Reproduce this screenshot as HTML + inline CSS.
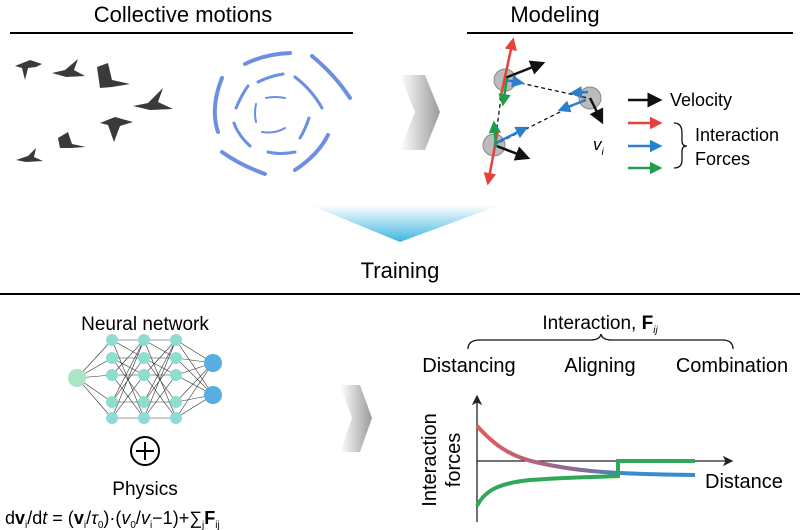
<!DOCTYPE html>
<html><head><meta charset="utf-8"><style>
html,body{margin:0;padding:0;background:#fff}
svg{display:block;font-family:"Liberation Sans",sans-serif}
</style></head><body>
<svg width="800" height="530" viewBox="0 0 800 530" xmlns="http://www.w3.org/2000/svg">
<defs>
<linearGradient id="gArr" x1="0" x2="1"><stop offset="0" stop-color="#fff"/><stop offset="1" stop-color="#888"/></linearGradient>
<linearGradient id="gTri" x1="0" y1="0" x2="0" y2="1"><stop offset="0" stop-color="#fff"/><stop offset="1" stop-color="#3fb6e0"/></linearGradient>
<linearGradient id="gRB" x1="0" x2="1"><stop offset="0" stop-color="#e85a5a"/><stop offset="0.45" stop-color="#8a6a95"/><stop offset="0.7" stop-color="#3a8ccc"/></linearGradient>
<marker id="mk" markerWidth="6" markerHeight="6" refX="5" refY="3" orient="auto"><path d="M0,0 L6,3 L0,6 Z" fill="#111"/></marker>
<marker id="mr" markerWidth="5" markerHeight="5" refX="4" refY="2.5" orient="auto"><path d="M0,0 L5,2.5 L0,5 Z" fill="#e8403c"/></marker>
<marker id="mb" markerWidth="5" markerHeight="5" refX="4" refY="2.5" orient="auto"><path d="M0,0 L5,2.5 L0,5 Z" fill="#2a7fcf"/></marker>
<marker id="mg" markerWidth="5" markerHeight="5" refX="4" refY="2.5" orient="auto"><path d="M0,0 L5,2.5 L0,5 Z" fill="#1f9e4a"/></marker>
<marker id="mx" markerWidth="8" markerHeight="8" refX="7" refY="4" orient="auto"><path d="M0,0 L8,4 L0,8 L2,4 Z" fill="#222"/></marker>
</defs>

<text x="183" y="22" font-size="22" text-anchor="middle">Collective motions</text>
<line x1="10" y1="33" x2="353" y2="33" stroke="#000" stroke-width="2"/>
<text x="555" y="22" font-size="22" text-anchor="middle">Modeling</text>
<line x1="467" y1="33" x2="793" y2="33" stroke="#000" stroke-width="2"/>

<!-- birds -->
<g fill="#3a3a3a">
<path d="M15,66 L30,60 L42,64 L36,67 L28,68 L25,80 L22,68 Z"/>
<path d="M52,73 L65,70 L78,59 L74,70 L85,76 L66,77 Z"/>
<path d="M97,67 L108,63 L112,80 L130,84 L112,87 L100,88 Z"/>
<path d="M133,106 L148,103 L163,88 L158,102 L173,109 L150,110 Z"/>
<path d="M100,123 L115,117 L133,122 L120,126 L114,142 L108,125 Z"/>
<path d="M58,138 L68,132 L72,144 L86,147 L70,148 L60,148 Z"/>
<path d="M16,160 L28,156 L36,148 L34,157 L43,161 L26,162 Z"/>
</g>
<!-- fish ring -->
<g stroke="#6b8fe2" stroke-linecap="round" fill="none">
<path d="M245,64 Q265,54 290,53" stroke-width="4"/>
<path d="M312,56 Q335,75 350,98" stroke-width="4"/>
<path d="M328,135 Q318,155 295,170" stroke-width="4"/>
<path d="M265,174 Q240,165 222,152" stroke-width="4"/>
<path d="M218,132 Q210,108 222,78" stroke-width="4"/>
<path d="M258,82 Q270,76 283,74" stroke-width="3"/>
<path d="M295,77 Q312,90 322,108" stroke-width="3"/>
<path d="M309,118 Q305,130 300,138" stroke-width="3"/>
<path d="M295,152 Q280,155 268,152" stroke-width="3"/>
<path d="M250,146 Q238,135 234,123" stroke-width="3"/>
<path d="M236,108 Q242,94 248,86" stroke-width="3"/>
<path d="M266,98 Q275,96 285,98" stroke-width="2"/>
<path d="M262,132 Q275,134 285,128" stroke-width="2"/>
<path d="M256,104 Q254,113 256,122" stroke-width="2"/>
</g>

<!-- chevron arrows -->
<path d="M400,75 L425,75 L440,112 L425,150 L400,150 L415,112 Z" fill="url(#gArr)" opacity="0.85"/>
<path d="M310,205 L500,205 L400,242 Z" fill="url(#gTri)"/>

<!-- modeling -->
<g fill="#bbb" stroke="#888" stroke-width="1"><circle cx="505" cy="80" r="11"/><circle cx="590" cy="98" r="11"/><circle cx="494" cy="145" r="11"/></g>
<g stroke="#111" stroke-width="1.3" stroke-dasharray="4,3"><line x1="507" y1="80" x2="588" y2="98"/><line x1="494" y1="145" x2="588" y2="98"/><line x1="502" y1="90" x2="496" y2="135"/></g>
<g stroke-width="2.5">
<line x1="505" y1="78" x2="543" y2="63" stroke="#111" marker-end="url(#mk)"/>
<line x1="590" y1="98" x2="602" y2="122" stroke="#111" marker-end="url(#mk)"/>
<line x1="494" y1="145" x2="528" y2="158" stroke="#111" marker-end="url(#mk)"/>
<line x1="500" y1="100" x2="513" y2="40" stroke="#e8403c" marker-end="url(#mr)"/>
<line x1="498" y1="130" x2="488" y2="183" stroke="#e8403c" marker-end="url(#mr)"/>
<line x1="505" y1="80" x2="522" y2="83" stroke="#2a7fcf" marker-end="url(#mb)"/>
<line x1="588" y1="92" x2="572" y2="93" stroke="#2a7fcf" marker-end="url(#mb)"/>
<line x1="586" y1="100" x2="560" y2="110" stroke="#2a7fcf" marker-end="url(#mb)"/>
<line x1="494" y1="144" x2="526" y2="128" stroke="#2a7fcf" marker-end="url(#mb)"/>
<line x1="507" y1="78" x2="503" y2="104" stroke="#1f9e4a" marker-end="url(#mg)"/>
<line x1="496" y1="147" x2="494" y2="123" stroke="#1f9e4a" marker-end="url(#mg)"/>
<line x1="628" y1="100" x2="660" y2="100" stroke="#111" marker-end="url(#mk)"/>
<line x1="628" y1="123" x2="660" y2="123" stroke="#e8403c" marker-end="url(#mr)"/>
<line x1="628" y1="146" x2="660" y2="146" stroke="#2a7fcf" marker-end="url(#mb)"/>
<line x1="628" y1="168" x2="660" y2="168" stroke="#1f9e4a" marker-end="url(#mg)"/>
</g>
<text x="670" y="106" font-size="18">Velocity</text>
<text x="695" y="141" font-size="18">Interaction</text>
<text x="695" y="165" font-size="18">Forces</text>
<path d="M674,123 Q682,123 682,133 L682,141 Q682,146 687,146 Q682,146 682,151 L682,160 Q682,168 674,168" fill="none" stroke="#111" stroke-width="1.3"/>
<text x="593" y="150" font-size="17" font-style="italic">v<tspan font-size="10" dy="5">i</tspan></text>

<!-- training -->
<text x="400" y="278" font-size="22" text-anchor="middle">Training</text>
<line x1="0" y1="294" x2="800" y2="294" stroke="#000" stroke-width="2"/>
<text x="145" y="330" font-size="19" text-anchor="middle">Neural network</text>
<g stroke="#333" stroke-width="0.6">
<line x1="77" y1="378" x2="112" y2="340"/><line x1="77" y1="378" x2="112" y2="358"/><line x1="77" y1="378" x2="112" y2="375"/><line x1="77" y1="378" x2="112" y2="402"/><line x1="77" y1="378" x2="112" y2="418"/>
<path d="M112,340 L144,418 M112,358 L144,402 M112,375 L144,340 M112,402 L144,358 M112,418 L144,375 M112,340 L144,358 M112,418 L144,340 M112,375 L144,418 M112,358 L144,375 M112,402 L144,340"/>
<path d="M144,340 L176,418 M144,358 L176,402 M144,375 L176,340 M144,402 L176,358 M144,418 L176,375 M144,340 L176,358 M144,418 L176,340 M144,375 L176,418 M144,358 L176,375 M144,402 L176,340"/>
<path d="M112,340 L144,340 M112,358 L144,358 M112,375 L144,375 M112,402 L144,402 M112,418 L144,418 M144,340 L176,340 M144,358 L176,358 M144,375 L176,375 M144,402 L176,402 M144,418 L176,418"/>
<path d="M176,340 L213,363 M176,358 L213,363 M176,375 L213,363 M176,402 L213,363 M176,418 L213,363 M176,340 L213,395 M176,358 L213,395 M176,375 L213,395 M176,402 L213,395 M176,418 L213,395"/>
</g>
<circle cx="77" cy="378" r="9" fill="#a8e6c4"/>
<g fill="#8fdcd0">
<circle cx="112" cy="340" r="6"/><circle cx="112" cy="358" r="6"/><circle cx="112" cy="375" r="6"/><circle cx="112" cy="402" r="6"/><circle cx="112" cy="418" r="6"/>
<circle cx="144" cy="340" r="6"/><circle cx="144" cy="358" r="6"/><circle cx="144" cy="375" r="6"/><circle cx="144" cy="402" r="6"/><circle cx="144" cy="418" r="6"/>
<circle cx="176" cy="340" r="6"/><circle cx="176" cy="358" r="6"/><circle cx="176" cy="375" r="6"/><circle cx="176" cy="402" r="6"/><circle cx="176" cy="418" r="6"/>
</g>
<circle cx="213" cy="363" r="9" fill="#58aee0"/><circle cx="213" cy="395" r="9" fill="#58aee0"/>
<circle cx="145" cy="451" r="14" fill="none" stroke="#000" stroke-width="2"/>
<line x1="136" y1="451" x2="154" y2="451" stroke="#000" stroke-width="2"/><line x1="145" y1="442" x2="145" y2="460" stroke="#000" stroke-width="2"/>
<text x="145" y="495" font-size="19" text-anchor="middle">Physics</text>
<text x="5" y="524" font-size="18">d<tspan font-weight="bold">v</tspan><tspan font-size="10" dy="4">i</tspan><tspan dy="-4">/d</tspan><tspan font-style="italic">t</tspan> = (<tspan font-weight="bold">v</tspan><tspan font-size="10" dy="4">i</tspan><tspan dy="-4">/</tspan><tspan font-style="italic">τ</tspan><tspan font-size="10" dy="4">0</tspan><tspan dy="-4">)·(</tspan><tspan font-style="italic">v</tspan><tspan font-size="10" dy="4">0</tspan><tspan dy="-4">/</tspan><tspan font-style="italic">v</tspan><tspan font-size="10" dy="4">i</tspan><tspan dy="-4">−1)+∑</tspan><tspan font-size="10" dy="4">j</tspan><tspan dy="-4" font-weight="bold">F</tspan><tspan font-size="10" dy="4">ij</tspan></text>

<path d="M340,385 L360,385 L372,418 L360,452 L340,452 L352,418 Z" fill="url(#gArr)" opacity="0.85"/>

<text x="600" y="329" font-size="19" text-anchor="middle">Interaction, <tspan font-weight="bold">F</tspan><tspan font-size="10" dy="4" font-style="italic">ij</tspan></text>
<path d="M468,349 Q468,340 480,340 L590,340 Q600,340 601,334 Q602,340 612,340 L722,340 Q733,340 733,349" fill="none" stroke="#111" stroke-width="1.3"/>
<text x="469" y="372" font-size="20" text-anchor="middle">Distancing</text>
<text x="600" y="372" font-size="20" text-anchor="middle">Aligning</text>
<text x="732" y="372" font-size="20" text-anchor="middle">Combination</text>

<line x1="477" y1="522" x2="477" y2="396" stroke="#222" stroke-width="1.3" marker-end="url(#mx)"/>
<line x1="477" y1="461" x2="732" y2="461" stroke="#222" stroke-width="1.3" marker-end="url(#mx)"/>
<path d="M477,426 C490,440 505,455 535,462 C570,470 600,474 695,475" fill="none" stroke="url(#gRB)" stroke-width="4"/>
<path d="M477,506 C485,490 500,483 530,480 C570,477 600,477 618,476 L618,461 L695,461" fill="none" stroke="#2fa85a" stroke-width="4"/>
<text x="705" y="488" font-size="20">Distance</text>
<text transform="translate(436,460) rotate(-90)" font-size="20" text-anchor="middle">Interaction</text>
<text transform="translate(460,460) rotate(-90)" font-size="20" text-anchor="middle">forces</text>
</svg>
</body></html>
